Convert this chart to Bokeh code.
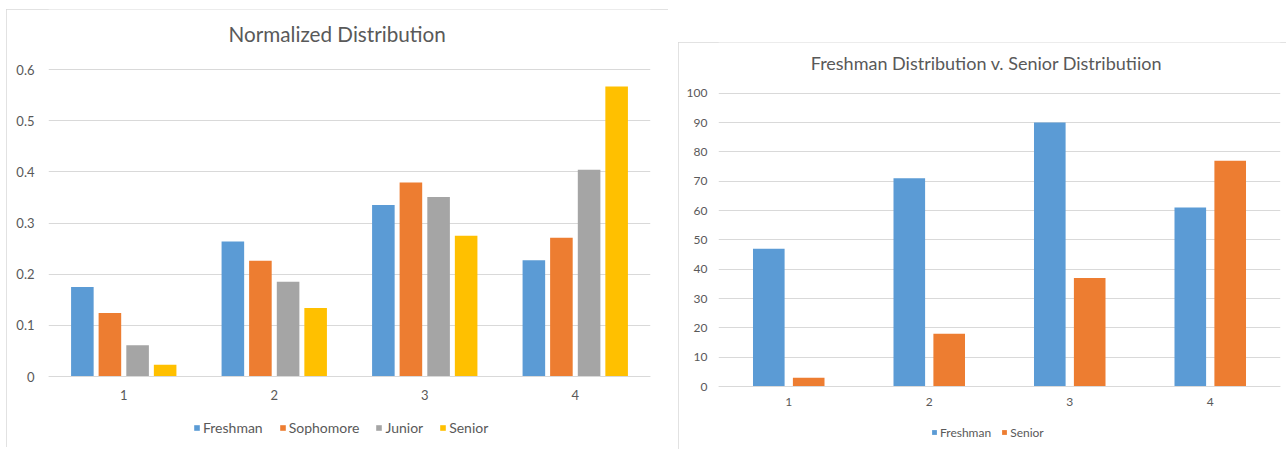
from bokeh.plotting import figure
from bokeh.models import (FactorRange, Range1d, Legend, LegendItem, ColumnDataSource,
                          FixedTicker, NumeralTickFormatter, Label)
from bokeh.transform import dodge
from bokeh.layouts import row
from bokeh.embed import file_html
from bokeh.resources import INLINE

# ---------------- data ----------------
categories = ["1", "2", "3", "4"]

# Left chart: normalized distribution
freshman_norm = [0.175, 0.264, 0.335, 0.227]
sophomore_norm = [0.124, 0.226, 0.379, 0.271]
junior_norm = [0.061, 0.185, 0.351, 0.404]
senior_norm = [0.023, 0.134, 0.275, 0.567]
left_series = ["Freshman", "Sophomore", "Junior", "Senior"]
left_ticks = [0, 0.1, 0.2, 0.3, 0.4, 0.5, 0.6]
left_title = "Normalized Distribution"

# Right chart: counts
freshman_count = [47, 71, 90, 61]
senior_count = [3, 18, 37, 77]
right_series = ["Freshman", "Senior"]
right_ticks = [0, 10, 20, 30, 40, 50, 60, 70, 80, 90, 100]
right_title = "Freshman Distribution v. Senior Distributiion"

colors = ["#5B9BD5", "#ED7D31", "#A5A5A5", "#FFC000"]
FONT = "Lato"
TXT = "#595959"
GRID = "#D9D9D9"


def style(p, tick_size, standoff_y, standoff_x):
    p.outline_line_color = None
    p.xgrid.grid_line_color = None
    p.ygrid.grid_line_color = GRID
    p.ygrid.grid_line_width = 1
    p.yaxis.axis_line_color = None
    p.xaxis.axis_line_color = GRID
    p.xaxis.fixed_location = 0
    for ax in (p.xaxis, p.yaxis):
        ax.major_tick_line_color = None
        ax.minor_tick_line_color = None
        ax.major_tick_out = 0
        ax.major_tick_in = 0
        ax.minor_tick_out = 0
        ax.minor_tick_in = 0
        ax.major_label_text_font = FONT
        ax.major_label_text_font_size = tick_size
        ax.major_label_text_color = TXT
    p.yaxis.major_label_standoff = standoff_y
    p.xaxis.major_label_standoff = standoff_x
    p.styles = {"outline": "1px solid #D9D9D9", "outline-offset": "-1px"}


# ---------------- left chart ----------------
# frame spans y 9..445 px; 0.6 sits at 69 px and 0 at 376 px
L_PX = (376 - 69) / 0.6
src1 = ColumnDataSource(dict(cat=categories, f=freshman_norm, so=sophomore_norm,
                             j=junior_norm, se=senior_norm))
p1 = figure(x_range=FactorRange(*categories),
            y_range=Range1d(-(445 - 376) / L_PX, 0.6 + (69 - 9) / L_PX),
            width=662, height=438, output_backend="svg", toolbar_location=None,
            min_border_left=42, min_border_right=18, min_border_top=0,
            min_border_bottom=2)
p1.margin = (9, 0, 0, 6)
offs1 = [-0.275, -0.092, 0.092, 0.275]
rs1 = []
for key, off, c in zip(["f", "so", "j", "se"], offs1, colors):
    rs1.append(p1.vbar(x=dodge("cat", off, range=p1.x_range), top=key, width=0.15,
                       source=src1, fill_color=c, line_color=None))
style(p1, "13px", 14, 13)
p1.yaxis.ticker = FixedTicker(ticks=left_ticks)
p1.yaxis.formatter = NumeralTickFormatter(format="0.[0]")
p1.add_layout(Label(x=(336.7 - 48) / 150.5, y=0.6 + (69 - 33.5) / L_PX, text=left_title,
                    text_align="center", text_baseline="middle", text_font=FONT,
                    text_font_size="20.7px", text_color=TXT))
leg1 = Legend(items=[LegendItem(label=n, renderers=[r]) for n, r in zip(left_series, rs1)],
              orientation="horizontal", location=(145, 8), padding=0, margin=0,
              spacing=16, glyph_width=7, glyph_height=7, label_standoff=3,
              label_height=20, border_line_color=None, background_fill_alpha=0,
              label_text_font=FONT, label_text_font_size="14px", label_text_color=TXT)
p1.add_layout(leg1, "center")

# ---------------- right chart ----------------
# frame spans y 42..447 px; 100 sits at 92.7 px and 0 at 386 px
R_PX = (386 - 92.7) / 100
src2 = ColumnDataSource(dict(cat=categories, f=freshman_count, se=senior_count))
p2 = figure(x_range=FactorRange(*categories),
            y_range=Range1d(-(447 - 386) / R_PX, 100 + (92.7 - 42) / R_PX),
            width=608, height=407, output_backend="svg", toolbar_location=None,
            min_border_left=40, min_border_right=6, min_border_top=0,
            min_border_bottom=2)
p2.margin = (42, 0, 0, 10)
rs2 = []
for key, off, c in zip(["f", "se"], [-0.142, 0.142], [colors[0], colors[1]]):
    rs2.append(p2.vbar(x=dodge("cat", off, range=p2.x_range), top=key, width=0.225,
                       source=src2, fill_color=c, line_color=None))
style(p2, "12px", 11, 11)
p2.yaxis.ticker = FixedTicker(ticks=right_ticks)
p2.add_layout(Label(x=(986 - 718) / 140.5, y=100 + (92.7 - 62.5) / R_PX, text=right_title,
                    text_align="center", text_baseline="middle", text_font=FONT,
                    text_font_size="18px", text_color=TXT))
leg2 = Legend(items=[LegendItem(label=n, renderers=[r]) for n, r in zip(right_series, rs2)],
              orientation="horizontal", location=(213, 5), padding=0, margin=0,
              spacing=10, glyph_width=6, glyph_height=6, label_standoff=3,
              label_height=20, border_line_color=None, background_fill_alpha=0,
              label_text_font=FONT, label_text_font_size="12px", label_text_color=TXT)
p2.add_layout(leg2, "center")

layout = row(p1, p2)
open("out.html", "w").write(file_html(layout, INLINE))
